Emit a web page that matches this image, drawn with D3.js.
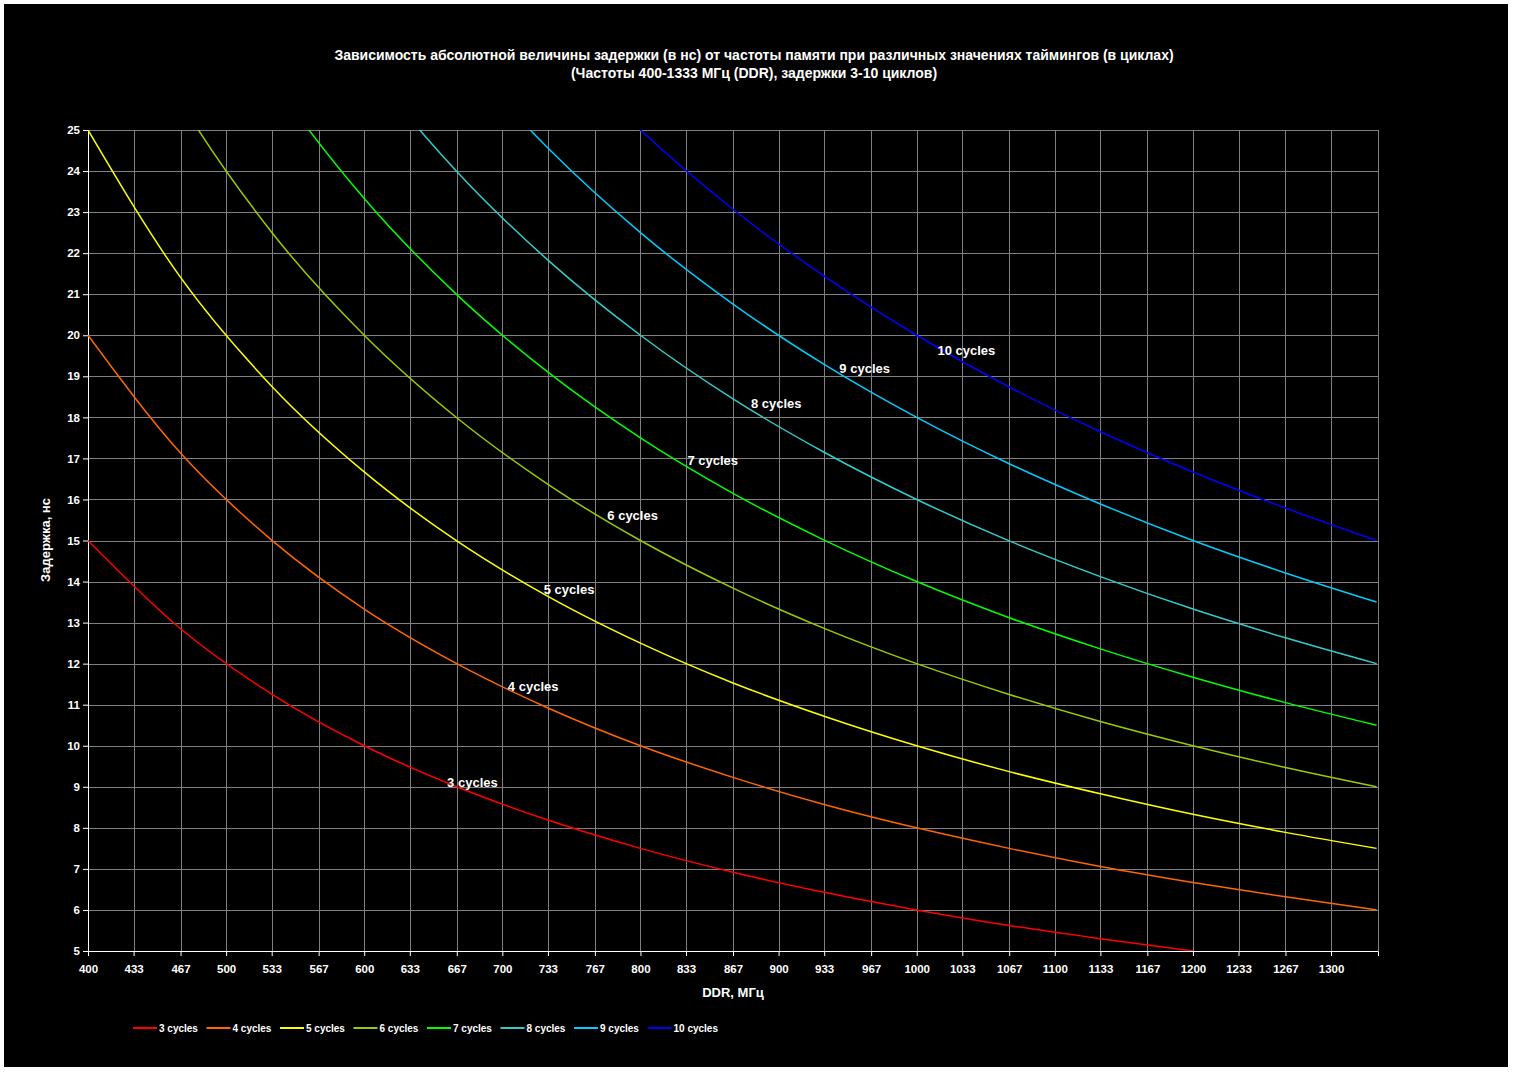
<!DOCTYPE html>
<html><head><meta charset="utf-8">
<script src="https://cdn.jsdelivr.net/npm/d3@7"></script>
<style>body{margin:0;background:#fff}</style>
</head><body><div id="wrapper"></div>
<script>
// Frequencies (DDR, MHz) and latencies (ns)
const freqs = [400, 467, 533, 600, 667, 733, 800, 867, 933, 1000, 1067, 1133, 1200, 1267, 1333]
const series = [
  {name: "3 cycles", color: "#ff0000", label: [660, 9.1], values: [15, 12.85, 11.26, 10, 9.0, 8.19, 7.5, 6.92, 6.43, 6, 5.62, 5.30, 5.0]},
  {name: "4 cycles", color: "#ff6600", label: [704, 11.45], values: [20, 17.13, 15.01, 13.33, 12.0, 10.92, 10, 9.23, 8.57, 8, 7.50, 7.06, 6.67, 6.32, 6.0]},
  {name: "5 cycles", color: "#ffff00", label: [730, 13.8], values: [25, 21.41, 18.76, 16.67, 14.99, 13.64, 12.5, 11.53, 10.72, 10, 9.37, 8.83, 8.33, 7.89, 7.5]},
  {name: "6 cycles", color: "#99cc00", label: [776, 15.6], values: [30, 25.70, 22.51, 20, 17.99, 16.37, 15, 13.84, 12.86, 12, 11.25, 10.59, 10, 9.47, 9.0]},
  {name: "7 cycles", color: "#00ff00", label: [834, 16.95], values: [35, 29.98, 26.27, 23.33, 20.99, 19.10, 17.5, 16.15, 15.01, 14, 13.12, 12.36, 11.67, 11.05, 10.5]},
  {name: "8 cycles", color: "#33cccc", label: [880, 18.35], values: [40, 34.26, 30.02, 26.67, 23.99, 21.83, 20, 18.45, 17.15, 16, 14.99, 14.12, 13.33, 12.63, 12]},
  {name: "9 cycles", color: "#00ccff", label: [944, 19.2], values: [45, 38.54, 33.77, 30, 26.99, 24.56, 22.5, 20.76, 19.29, 18, 16.87, 15.89, 15, 14.21, 13.5]},
  {name: "10 cycles", color: "#0000ff", label: [1015, 19.62], values: [50, 42.83, 37.52, 33.33, 29.99, 27.29, 25, 23.07, 21.44, 20, 18.74, 17.65, 16.67, 15.79, 15]},
]
const xTicks = [400,433,467,500,533,567,600,633,667,700,733,767,800,833,867,900,933,967,1000,1033,1067,1100,1133,1167,1200,1233,1267,1300]

const W = 1513, H = 1072
const m = {left: 88, right: 135, top: 130, bottom: 121}
const font = "Liberation Sans, Arial, sans-serif"

const svg = d3.select("#wrapper").append("svg").attr("width", W).attr("height", H)
  .style("font-family", font)
svg.append("rect").attr("width", W).attr("height", H).attr("fill", "#fff")
svg.append("rect").attr("x", 4).attr("y", 4).attr("width", W - 9).attr("height", H - 9).attr("fill", "#000")

const xScale = d3.scaleLinear().domain([400, 1334]).range([m.left, W - m.right])
const yScale = d3.scaleLinear().domain([5, 25]).range([H - m.bottom, m.top])

// grid
const grid = svg.append("g").attr("stroke", "#808080").attr("stroke-width", 1)
grid.selectAll(".v").data(xTicks.concat([1334])).join("line")
  .attr("x1", d => Math.round(xScale(d)) + 0.5).attr("x2", d => Math.round(xScale(d)) + 0.5)
  .attr("y1", yScale(25)).attr("y2", yScale(5))
grid.selectAll(".h").data(d3.range(5, 26)).join("line")
  .attr("x1", xScale(400)).attr("x2", xScale(1334))
  .attr("y1", d => Math.round(yScale(d)) + 0.5).attr("y2", d => Math.round(yScale(d)) + 0.5)

// axes
const xAxis = svg.append("g").attr("transform", `translate(0,${yScale(5)})`)
  .call(d3.axisBottom(xScale).tickValues(xTicks).tickFormat(d3.format("d")).tickSize(5))
const yAxis = svg.append("g").attr("transform", `translate(${xScale(400)},0)`)
  .call(d3.axisLeft(yScale).ticks(20).tickFormat(d3.format("d")).tickSize(5))
for (const a of [xAxis, yAxis]) {
  a.selectAll("path,line").attr("stroke", "#fff")
  a.selectAll("text").attr("fill", "#fff").attr("font-size", 11.5).attr("font-weight", "bold").attr("font-family", font)
}
xAxis.selectAll("text").attr("dy", "1.2em")

// curves
svg.append("clipPath").attr("id", "clip").append("rect")
  .attr("x", xScale(400)).attr("y", yScale(25)).attr("width", xScale(1334) - xScale(400)).attr("height", yScale(5) - yScale(25))
const line = d3.line().x((d, i) => xScale(freqs[i])).y(d => yScale(d)).curve(d3.curveMonotoneX)
svg.append("g").attr("clip-path", "url(#clip)").selectAll("path").data(series).join("path")
  .attr("d", d => line(d.values)).attr("fill", "none").attr("stroke", d => d.color).attr("stroke-width", 1.5)

svg.append("g").selectAll("text").data(series).join("text")
  .attr("x", d => xScale(d.label[0])).attr("y", d => yScale(d.label[1])).attr("dy", "0.35em")
  .attr("fill", "#fff").attr("font-size", 13).attr("font-weight", "bold").text(d => d.name)

// titles
svg.append("text").attr("x", 754).attr("y", 60).attr("text-anchor", "middle").attr("fill", "#fff")
  .attr("font-size", 14).attr("font-weight", "bold")
  .text("Зависимость абсолютной величины задержки (в нс) от частоты памяти при различных значениях таймингов (в циклах)")
svg.append("text").attr("x", 754).attr("y", 78).attr("text-anchor", "middle").attr("fill", "#fff")
  .attr("font-size", 14).attr("font-weight", "bold").text("(Частоты 400-1333 МГц (DDR), задержки 3-10 циклов)")
svg.append("text").attr("x", 733).attr("y", 997).attr("text-anchor", "middle").attr("fill", "#fff")
  .attr("font-size", 13).attr("font-weight", "bold").text("DDR, МГц")
svg.append("text").attr("transform", "translate(50,540) rotate(-90)").attr("text-anchor", "middle").attr("fill", "#fff")
  .attr("font-size", 13).attr("font-weight", "bold").text("Задержка, нс")

// legend
const legend = svg.append("g").selectAll("g").data(series).join("g")
  .attr("transform", (d, i) => `translate(${133 + i * 73.5},1028)`)
legend.append("line").attr("x1", 0).attr("x2", 24).attr("stroke", d => d.color).attr("stroke-width", 2)
legend.append("text").attr("x", 26).attr("dy", "0.35em").attr("fill", "#fff")
  .attr("font-size", 10).attr("font-weight", "bold").text(d => d.name)
</script>
</body></html>
